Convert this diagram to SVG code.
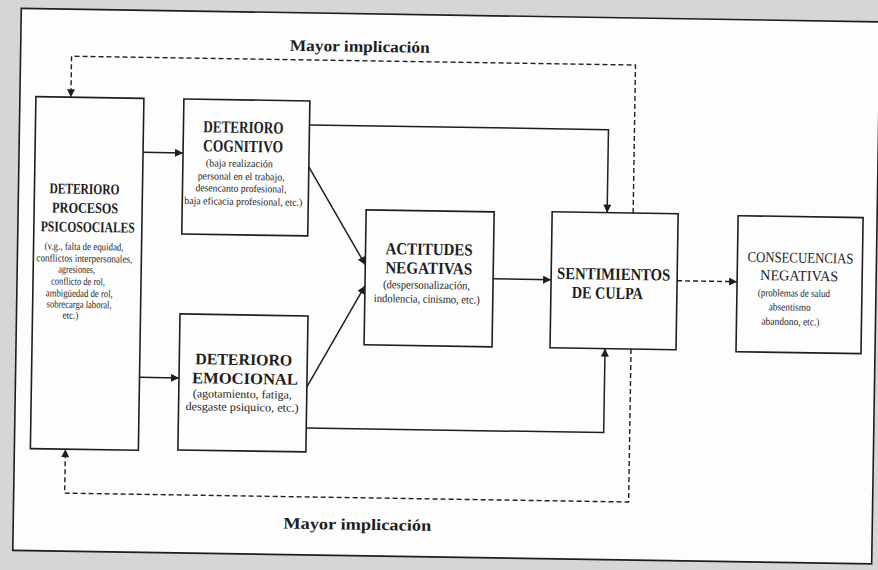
<svg xmlns="http://www.w3.org/2000/svg" width="878" height="570" viewBox="0 0 878 570">
<style>
.box{fill:none;stroke:#1e1e1e;stroke-width:1.6}
.ln{fill:none;stroke:#1e1e1e;stroke-width:1.5}
.dash{fill:none;stroke:#1e1e1e;stroke-width:1.4;stroke-dasharray:5 3}
text{font-family:"Liberation Serif","Times New Roman",serif;fill:#1e1e1e}
.t{font-weight:bold}
.s{font-size:10.5px}
.m{font-size:11.5px}
</style>
<defs>
<marker id="ah" viewBox="0 0 10 10" refX="10" refY="5" markerWidth="9" markerHeight="8" markerUnits="userSpaceOnUse" orient="auto">
<path d="M0,0 L10,5 L0,10 z" fill="#1e1e1e"/>
</marker>
</defs>
<rect width="878" height="570" fill="#d6d6d6"/>
<g transform="rotate(0.9 439 285)">
<rect x="17" y="15" width="859" height="542" fill="#fdfdfd" stroke="#1e1e1e" stroke-width="1.6"/>
<g id="connectors">
<path class="ln" d="M141,157 H181" marker-end="url(#ah)"/>
<path class="ln" d="M141,382 H180.5" marker-end="url(#ah)"/>
<path class="ln" d="M307,127 H606 V210" marker-end="url(#ah)"/>
<path class="ln" d="M307,169 L365,266" marker-end="url(#ah)"/>
<path class="ln" d="M308.5,389 L365,287" marker-end="url(#ah)"/>
<path class="ln" d="M308.5,430 H606 V346" marker-end="url(#ah)"/>
<path class="ln" d="M493,278 H551" marker-end="url(#ah)"/>
<path class="dash" d="M677,277 H737" marker-end="url(#ah)"/>
<path class="dash" d="M632,210 V62 H68 V103" marker-end="url(#ah)"/>
<path class="dash" d="M632,346 V499 H68 V455" marker-end="url(#ah)"/>
<text id="lbl-top" class="t" x="286" y="53" font-size="16" textLength="140" lengthAdjust="spacingAndGlyphs">Mayor  implicación</text>
<text id="lbl-bottom" class="t" x="287" y="531" font-size="16" textLength="148" lengthAdjust="spacingAndGlyphs">Mayor  implicación</text>
</g>
<g id="psicosociales">
<rect class="box" x="33" y="103" width="108" height="352"/>
<text class="t" font-size="15" x="48" y="199.5" textLength="70" lengthAdjust="spacingAndGlyphs">DETERIORO</text>
<text class="t" font-size="15" x="51" y="218.5" textLength="66" lengthAdjust="spacingAndGlyphs">PROCESOS</text>
<text class="t" font-size="15" x="40" y="237.5" textLength="94" lengthAdjust="spacingAndGlyphs">PSICOSOCIALES</text>
<text class="s" x="44" y="255.5" textLength="79" lengthAdjust="spacingAndGlyphs">(v.g., falta de equidad,</text>
<text class="s" x="36" y="267.5" textLength="96" lengthAdjust="spacingAndGlyphs">conflictos interpersonales,</text>
<text class="s" x="58" y="278.5" textLength="37" lengthAdjust="spacingAndGlyphs">agresiones,</text>
<text class="s" x="51" y="290.5" textLength="54" lengthAdjust="spacingAndGlyphs">conflicto de rol,</text>
<text class="s" x="46" y="302.5" textLength="67" lengthAdjust="spacingAndGlyphs">ambigüedad de rol,</text>
<text class="s" x="47" y="313.5" textLength="65" lengthAdjust="spacingAndGlyphs">sobrecarga laboral,</text>
<text class="s" x="63" y="324.5" textLength="16" lengthAdjust="spacingAndGlyphs">etc.)</text>
</g>
<g id="cognitivo">
<rect class="box" x="181" y="103" width="126" height="135"/>
<text class="t" font-size="17" x="201" y="136" textLength="80" lengthAdjust="spacingAndGlyphs">DETERIORO</text>
<text class="t" font-size="17" x="201" y="155" textLength="80" lengthAdjust="spacingAndGlyphs">COGNITIVO</text>
<text class="s" x="204" y="170" textLength="67" lengthAdjust="spacingAndGlyphs">(baja realización</text>
<text class="s" x="196" y="183" textLength="87" lengthAdjust="spacingAndGlyphs">personal en el trabajo,</text>
<text class="s" x="194" y="195" textLength="91" lengthAdjust="spacingAndGlyphs">desencanto profesional,</text>
<text class="s" x="183" y="208" textLength="118" lengthAdjust="spacingAndGlyphs">baja eficacia profesional, etc.)</text>
</g>
<g id="emocional">
<rect class="box" x="180.5" y="318" width="128" height="136"/>
<text class="t" font-size="16" x="196.5" y="368" textLength="97" lengthAdjust="spacingAndGlyphs">DETERIORO</text>
<text class="t" font-size="16" x="193.5" y="387" textLength="106" lengthAdjust="spacingAndGlyphs">EMOCIONAL</text>
<text class="m" x="194.5" y="401" textLength="99" lengthAdjust="spacingAndGlyphs">(agotamiento, fatiga,</text>
<text class="m" x="187.5" y="414" textLength="113" lengthAdjust="spacingAndGlyphs">desgaste psiquico, etc.)</text>
</g>
<g id="actitudes">
<rect class="box" x="365" y="211" width="128" height="135"/>
<text class="t" font-size="17" x="385" y="255" textLength="87" lengthAdjust="spacingAndGlyphs">ACTITUDES</text>
<text class="t" font-size="17" x="385" y="274" textLength="87" lengthAdjust="spacingAndGlyphs">NEGATIVAS</text>
<text class="m" x="383" y="289" textLength="87" lengthAdjust="spacingAndGlyphs">(despersonalización,</text>
<text class="m" x="374" y="303" textLength="106" lengthAdjust="spacingAndGlyphs">indolencia, cinismo, etc.)</text>
</g>
<g id="sentimientos">
<rect class="box" x="551" y="210" width="126" height="136"/>
<text class="t" font-size="17" x="557" y="277" textLength="113" lengthAdjust="spacingAndGlyphs">SENTIMIENTOS</text>
<text class="t" font-size="17" x="572" y="296" textLength="71" lengthAdjust="spacingAndGlyphs">DE CULPA</text>
</g>
<g id="consecuencias">
<rect class="box" x="737" y="211" width="125" height="136"/>
<text font-size="15" x="747" y="257" textLength="106" lengthAdjust="spacingAndGlyphs">CONSECUENCIAS</text>
<text font-size="15" x="760" y="275" textLength="78" lengthAdjust="spacingAndGlyphs">NEGATIVAS</text>
<text class="s" x="758" y="291" textLength="72" lengthAdjust="spacingAndGlyphs">(problemas de salud</text>
<text class="s" x="769" y="305" textLength="42" lengthAdjust="spacingAndGlyphs">absentismo</text>
<text class="s" x="762" y="319.5" textLength="58" lengthAdjust="spacingAndGlyphs">abandono, etc.)</text>
</g>
</g>
</svg>
